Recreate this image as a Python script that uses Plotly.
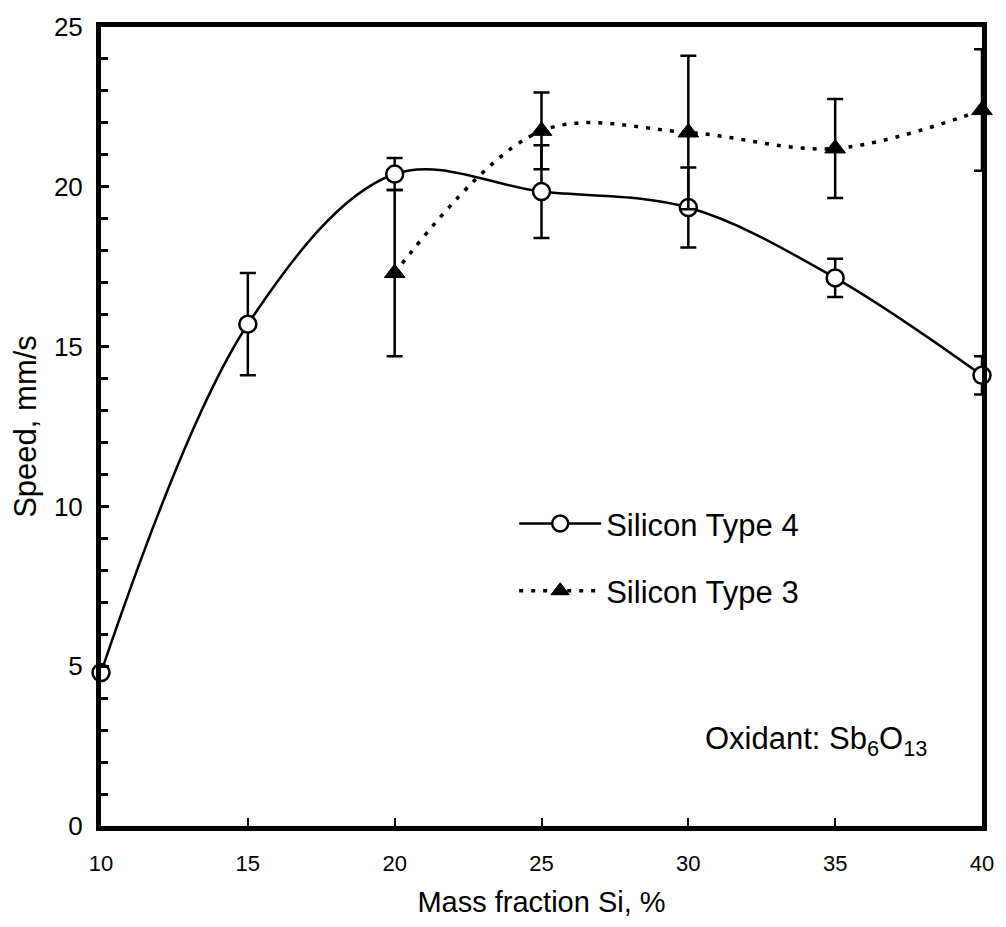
import plotly.graph_objects as go

# Burning speed versus silicon mass fraction, oxidant Sb6O13
mass_fraction = [10, 15, 20, 25, 30, 35, 40]

type4_speed = [4.8, 15.7, 20.4, 19.85, 19.35, 17.15, 14.1]
type4_err = [0.0, 1.6, 0.5, 1.45, 1.25, 0.6, 0.6]

type3_fraction = [20, 25, 30, 35, 40]
type3_speed = [17.3, 21.75, 21.7, 21.2, 22.4]
type3_err = [2.6, 1.2, 2.4, 1.55, 1.9]

x_ticks = [10, 15, 20, 25, 30, 35, 40]
y_ticks = [0, 5, 10, 15, 20, 25]

FONT = "Liberation Sans, Arial, sans-serif"

fig = go.Figure()

fig.add_trace(go.Scatter(
    x=mass_fraction, y=type4_speed, name="Silicon Type 4", legendgroup="t4",
    mode="lines+markers", cliponaxis=False,
    line=dict(color="black", width=2.5, shape="spline", smoothing=1.0),
    marker=dict(symbol="circle", size=17, color="white",
                line=dict(color="black", width=2.5)),
    error_y=dict(type="data", array=type4_err, visible=True,
                 color="black", thickness=2.5, width=8),
))

fig.add_trace(go.Scatter(
    x=type3_fraction, y=type3_speed, name="Silicon Type 3", legendgroup="t3",
    mode="lines+markers", cliponaxis=False,
    line=dict(color="black", width=3.5, dash="4px,8px", shape="spline", smoothing=1.0),
    marker=dict(symbol="triangle-up", size=18, color="black",
                line=dict(color="black", width=1)),
    error_y=dict(type="data", array=type3_err, visible=True,
                 color="black", thickness=2.5, width=8),
))

fig.add_annotation(
    x=0.94, y=0.106, xref="paper", yref="paper", xanchor="right", yanchor="middle",
    text="Oxidant: Sb<sub>6</sub>O<sub>13</sub>", showarrow=False,
    font=dict(family=FONT, size=31, color="black"),
)

fig.update_layout(
    width=1006, height=927,
    margin=dict(l=101, r=23, t=22, b=96),
    paper_bgcolor="white", plot_bgcolor="white",
    font=dict(family=FONT, color="black"),
    showlegend=True,
    legend=dict(
        x=0.469, y=0.412, xanchor="left", yanchor="top",
        bgcolor="rgba(0,0,0,0)", borderwidth=0,
        font=dict(family=FONT, size=31, color="black"),
        itemwidth=82, tracegroupgap=24,
    ),
)

fig.update_xaxes(
    range=[10, 40], tickvals=x_ticks, ticktext=[str(v) for v in x_ticks],
    showgrid=False, zeroline=False,
    showline=True, linecolor="black", linewidth=5, mirror=True,
    ticks="inside", ticklen=8, tickwidth=1.5, tickcolor="black",
    tickfont=dict(family=FONT, size=22), ticklabelstandoff=14,
    title=dict(text="Mass fraction Si, %", font=dict(family=FONT, size=29), standoff=18),
)

fig.update_yaxes(
    range=[0, 25], tickvals=y_ticks, ticktext=[str(v) for v in y_ticks],
    showgrid=False, zeroline=False,
    showline=True, linecolor="black", linewidth=5, mirror=True,
    ticks="inside", ticklen=8, tickwidth=2.5, tickcolor="black",
    minor=dict(dtick=1, ticks="inside", ticklen=7, tickwidth=2.5, tickcolor="black"),
    tickfont=dict(family=FONT, size=26), ticklabelstandoff=8,
    title=dict(text="Speed, mm/s", font=dict(family=FONT, size=31), standoff=10),
)

fig.write_html("out.html")
